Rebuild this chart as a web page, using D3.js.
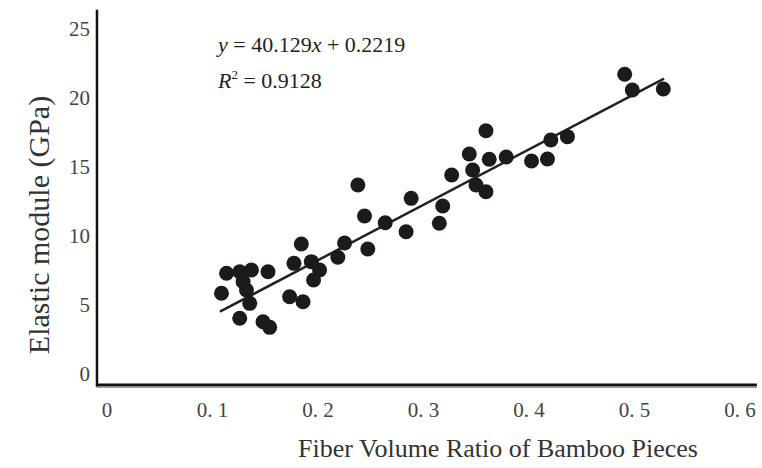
<!DOCTYPE html>
<html>
<head>
<meta charset="utf-8">
<script src="https://cdn.jsdelivr.net/npm/d3@7"></script>
<style>
  body { margin: 0; background: #fff; }
  svg { display: block; font-family: "Liberation Serif", "Times New Roman", serif; }
</style>
</head>
<body>
<div id="chart"></div>
<script>
// fibre volume ratio (x) vs elastic module in GPa (y)
const ratio = [0.1085, 0.1133, 0.1258, 0.1369, 0.1526, 0.1290, 0.1322, 0.1353, 0.1258, 0.1479,
  0.1542, 0.1731, 0.1858, 0.1772, 0.1842, 0.1937, 0.2015, 0.1958, 0.2188, 0.2252,
  0.2378, 0.2441, 0.2472, 0.2637, 0.2835, 0.2883, 0.3150, 0.3182, 0.3267, 0.3434,
  0.3466, 0.3498, 0.3592, 0.3592, 0.3623, 0.3784, 0.4024, 0.4175, 0.4207, 0.4364,
  0.4907, 0.4979, 0.5273];
const modulus = [5.85, 7.30, 7.41, 7.54, 7.41, 6.69, 6.09, 5.12, 4.04, 3.79,
  3.38, 5.60, 5.24, 8.02, 9.42, 8.14, 7.54, 6.81, 8.46, 9.49,
  13.70, 11.45, 9.06, 10.96, 10.31, 12.73, 10.92, 12.17, 14.42, 15.94,
  14.78, 13.70, 13.21, 17.63, 15.56, 15.72, 15.43, 15.58, 16.96, 17.20,
  21.72, 20.58, 20.65];
const xTicks = [0, 0.1, 0.2, 0.3, 0.4, 0.5, 0.6];
const yTicks = [0, 5, 10, 15, 20, 25];
const slope = 40.129, intercept = 0.2219;
const fitRange = [0.107, 0.528];

const width = 762, height = 468;

const svg = d3.select("#chart").append("svg")
  .attr("width", width)
  .attr("height", height);

svg.append("rect").attr("width", width).attr("height", height).attr("fill", "#fff");

let x = d3.scaleLinear().domain([0, 0.6]).range([107, 740]);
let y = d3.scaleLinear().domain([0, 25]).range([374, 29]);

// axis lines sit a little outside the zero values, as in the figure
const axisX = x(-0.0095), axisY = y(-0.8);

svg.append("line")
  .attr("x1", axisX).attr("x2", axisX)
  .attr("y1", y(26.4)).attr("y2", axisY + 1.5)
  .attr("stroke", "#111").attr("stroke-width", 2.5);

svg.append("line")
  .attr("x1", axisX - 1).attr("x2", x(0.616))
  .attr("y1", axisY).attr("y2", axisY)
  .attr("stroke", "#111").attr("stroke-width", 3);

svg.append("line")
  .attr("x1", axisX).attr("x2", x(0.616))
  .attr("y1", axisY + 2.5).attr("y2", axisY + 2.5)
  .attr("stroke", "#999").attr("stroke-width", 1);

// tick labels
svg.append("g").selectAll("text")
  .data(xTicks)
  .enter().append("text")
  .attr("x", d => x(d))
  .attr("y", 417)
  .attr("text-anchor", "middle")
  .attr("font-size", 21)
  .attr("fill", "#444")
  .text(d => d === 0 ? "0" : d.toFixed(1).replace(".", ". "));

svg.append("g").selectAll("text")
  .data(yTicks)
  .enter().append("text")
  .attr("x", 90)
  .attr("y", d => y(d))
  .attr("dy", "0.35em")
  .attr("text-anchor", "end")
  .attr("font-size", 21)
  .attr("fill", "#444")
  .text(d => d);

// axis titles
svg.append("text")
  .attr("x", 498)
  .attr("y", 457)
  .attr("text-anchor", "middle")
  .attr("font-size", 26)
  .attr("fill", "#333")
  .text("Fiber Volume Ratio of Bamboo Pieces");

svg.append("text")
  .attr("transform", "translate(49," + 225 + ") rotate(-90)")
  .attr("text-anchor", "middle")
  .attr("font-size", 30)
  .attr("fill", "#333")
  .text("Elastic module (GPa)");

// regression line
svg.append("line")
  .attr("x1", x(fitRange[0])).attr("y1", y(slope * fitRange[0] + intercept))
  .attr("x2", x(fitRange[1])).attr("y2", y(slope * fitRange[1] + intercept))
  .attr("stroke", "#222").attr("stroke-width", 2.5);

// points
svg.append("g").selectAll("circle")
  .data(ratio.map((r, i) => ({ r: r, m: modulus[i] })))
  .enter().append("circle")
  .attr("cx", d => x(d.r))
  .attr("cy", d => y(d.m))
  .attr("r", 7.5)
  .attr("fill", "#1e1a1b");

// equation
let eq = svg.append("text")
  .attr("x", 218).attr("y", 52)
  .attr("font-size", 22)
  .attr("fill", "#222");
eq.append("tspan").attr("font-style", "italic").text("y");
eq.append("tspan").text(" = 40.129");
eq.append("tspan").attr("font-style", "italic").text("x");
eq.append("tspan").text(" + 0.2219");

let r2 = svg.append("text")
  .attr("x", 218).attr("y", 88)
  .attr("font-size", 22)
  .attr("fill", "#222");
r2.append("tspan").attr("font-style", "italic").text("R");
r2.append("tspan").attr("font-size", 13).attr("dy", -9).text("2");
r2.append("tspan").attr("dy", 9).text(" = 0.9128");
</script>
</body>
</html>
